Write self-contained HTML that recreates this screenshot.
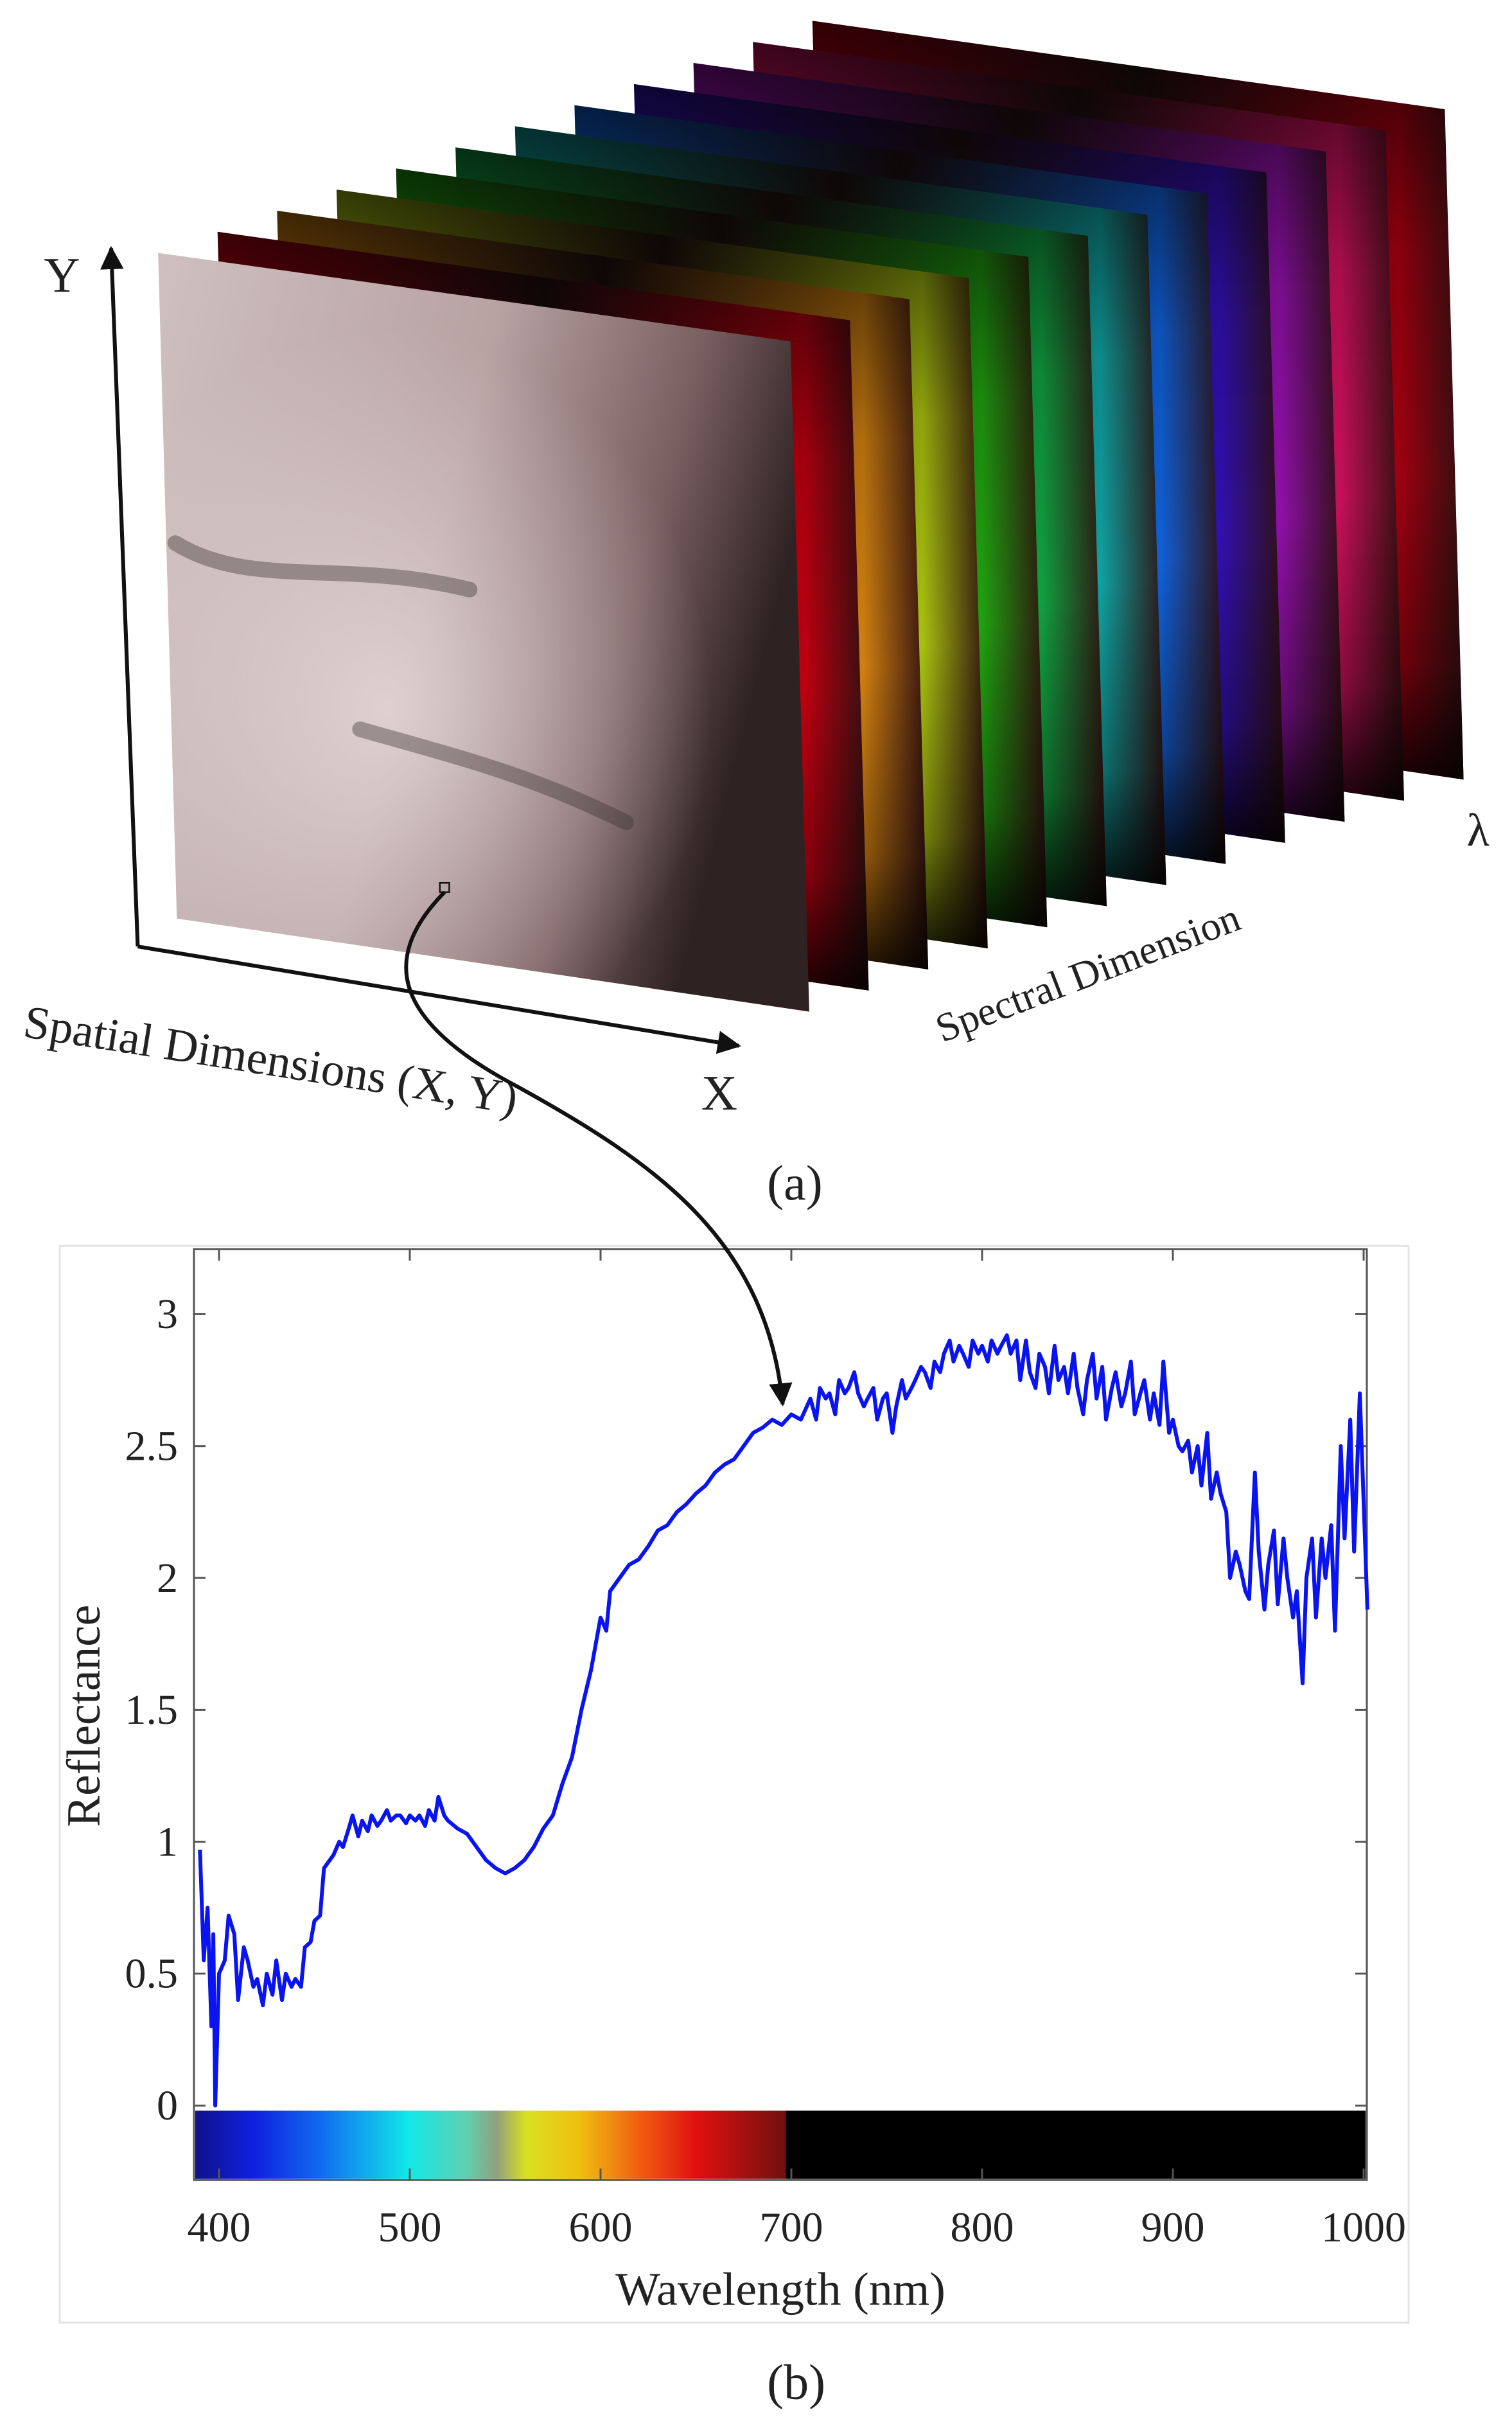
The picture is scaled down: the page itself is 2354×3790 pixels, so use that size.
<!DOCTYPE html>
<html><head><meta charset="utf-8"><style>
html,body{margin:0;padding:0;background:#fff;}
svg{display:block;}
text{font-family:"Liberation Serif",serif;fill:#222;}
</style></head><body>
<svg id="fig" width="2354" height="3790" viewBox="0 0 2354 3790" xmlns="http://www.w3.org/2000/svg">
<defs>
  <linearGradient id="skin" x1="0" y1="0" x2="1" y2="0.3">
    <stop offset="0" stop-color="#cfc0c0"/>
    <stop offset="0.5" stop-color="#b8a2a2"/>
    <stop offset="0.8" stop-color="#7a5f60"/>
    <stop offset="1" stop-color="#2e2223"/>
  </linearGradient>
  <radialGradient id="glow" cx="0.35" cy="0.6" r="0.5">
    <stop offset="0" stop-color="#e8dcdc" stop-opacity="0.8"/>
    <stop offset="1" stop-color="#e8dcdc" stop-opacity="0"/>
  </radialGradient>
  <linearGradient id="shade" x1="0" y1="0" x2="0" y2="1">
    <stop offset="0" stop-color="#000" stop-opacity="0.7"/>
    <stop offset="0.3" stop-color="#000" stop-opacity="0.15"/>
    <stop offset="0.6" stop-color="#000" stop-opacity="0"/>
    <stop offset="0.85" stop-color="#000" stop-opacity="0.3"/>
    <stop offset="1" stop-color="#000" stop-opacity="0.85"/>
  </linearGradient>
  <linearGradient id="cbar" x1="0" y1="0" x2="1" y2="0">
    <stop offset="0" stop-color="#10108a"/>
    <stop offset="0.1" stop-color="#1020e0"/>
    <stop offset="0.22" stop-color="#1070f0"/>
    <stop offset="0.36" stop-color="#10e8e8"/>
    <stop offset="0.46" stop-color="#60d0b0"/>
    <stop offset="0.51" stop-color="#90a080"/>
    <stop offset="0.56" stop-color="#d8e020"/>
    <stop offset="0.65" stop-color="#f0c010"/>
    <stop offset="0.75" stop-color="#f06010"/>
    <stop offset="0.85" stop-color="#e01010"/>
    <stop offset="1" stop-color="#701010"/>
  </linearGradient>
  <marker id="arr" viewBox="0 0 10 10" refX="9" refY="5" markerWidth="6" markerHeight="6" orient="auto">
    <path d="M0,0 L10,5 L0,10 z" fill="#111"/>
  </marker>
</defs>
<g transform="scale(1,0.991)">
<g id="cube" transform="scale(2.437)"></g>

<g transform="scale(2.437)">
  <line x1="88" y1="610" x2="71" y2="160" stroke="#111" stroke-width="2.5" marker-end="url(#arr)"/>
  <line x1="88" y1="610" x2="472" y2="674" stroke="#111" stroke-width="2.5" marker-end="url(#arr)"/>
  <text x="28" y="188" font-size="32">Y</text>
  <text x="448" y="715" font-size="32">X</text>
  <text x="14" y="668" font-size="30" transform="rotate(9 14 668)">Spatial Dimensions (X, Y)</text>
  <text x="602" y="672" font-size="26" transform="rotate(-21 602 672)">Spectral Dimension</text>
  <text x="937" y="545" font-size="30">λ</text>
  <text x="490" y="773" font-size="32">(a)</text>
  <text x="490" y="1546" font-size="32">(b)</text>
  <rect x="281" y="569" width="6" height="6" fill="none" stroke="#111" stroke-width="1"/>
</g>

<g id="chart">
  <rect x="93" y="1957" width="2100" height="1691" fill="none" stroke="#e4e4e4" stroke-width="3"/>
</g>

<g transform="scale(2.437)">
  <path d="M284,575 C240,620 255,660 330,700 C420,750 490,800 500,905" fill="none" stroke="#111" stroke-width="2.5" marker-end="url(#arr)"/>
</g>
</g>
</svg>
<script>
const wavelengths=[390,392,394,396,397,398,400,403,405,408,410,413,415,418,420,423,425,428,430,433,435,438,440,443,445,448,450,453,455,458,460,463,465,468,470,473,475,478,480,483,485,488,490,493,495,498,500,503,505,508,510,513,515,518,520,525,530,535,540,545,550,555,560,565,570,575,580,585,590,595,600,603,605,610,615,620,625,630,635,640,645,650,655,660,665,670,675,680,685,690,695,700,705,710,713,715,718,720,723,725,728,730,733,735,738,740,743,745,748,750,753,755,758,760,763,765,768,770,773,775,778,780,783,785,788,790,793,795,798,800,803,805,808,810,813,815,818,820,823,825,828,830,833,835,838,840,843,845,848,850,853,855,858,860,863,865,868,870,873,875,878,880,883,885,888,890,893,895,898,900,903,905,908,910,913,915,918,920,923,925,928,930,933,935,938,940,943,945,948,950,953,955,958,960,963,965,968,970,973,975,978,980,983,985,988,990,993,995,998,1002];
const reflectance=[0.97,0.55,0.75,0.3,0.65,0.0,0.5,0.55,0.72,0.65,0.4,0.6,0.55,0.45,0.48,0.38,0.5,0.42,0.55,0.4,0.5,0.45,0.48,0.45,0.6,0.62,0.7,0.72,0.9,0.93,0.95,1.0,0.98,1.05,1.1,1.02,1.08,1.04,1.1,1.06,1.08,1.12,1.08,1.1,1.1,1.07,1.1,1.08,1.1,1.06,1.12,1.08,1.17,1.1,1.08,1.05,1.03,0.98,0.93,0.9,0.88,0.9,0.93,0.98,1.05,1.1,1.22,1.32,1.5,1.65,1.85,1.8,1.95,2.0,2.05,2.07,2.12,2.18,2.2,2.25,2.28,2.32,2.35,2.4,2.43,2.45,2.5,2.55,2.57,2.6,2.58,2.62,2.6,2.68,2.6,2.72,2.68,2.7,2.62,2.75,2.7,2.72,2.78,2.7,2.65,2.68,2.72,2.6,2.68,2.7,2.55,2.65,2.75,2.68,2.72,2.75,2.8,2.78,2.72,2.82,2.78,2.85,2.9,2.82,2.88,2.85,2.8,2.9,2.85,2.88,2.82,2.9,2.85,2.88,2.92,2.85,2.9,2.75,2.9,2.78,2.72,2.85,2.8,2.7,2.88,2.75,2.8,2.7,2.85,2.72,2.62,2.75,2.85,2.68,2.8,2.6,2.72,2.78,2.65,2.7,2.82,2.62,2.7,2.75,2.6,2.7,2.58,2.82,2.55,2.6,2.5,2.48,2.52,2.4,2.5,2.35,2.55,2.3,2.4,2.32,2.25,2.0,2.1,2.05,1.95,1.92,2.4,2.1,1.88,2.05,2.18,1.9,2.15,2.0,1.85,1.95,1.6,2.0,2.15,1.85,2.15,2.0,2.2,1.8,2.5,2.15,2.6,2.1,2.7,1.88];
const yTicks=[0,0.5,1,1.5,2,2.5,3];
const yTickLabels=["0","0.5","1","1.5","2","2.5","3"];
const xTicks=[400,500,600,700,800,900,1000];
const xTickLabels=["400","500","600","700","800","900","1000"];
const sliceColors=["#c00010","#d08010","#a8c010","#20a010","#10a040","#10a0a0","#1060d8","#3010b0","#9010a8","#c8105a","#a00010"];

const NS="http://www.w3.org/2000/svg";
function mk(tag,attrs,parent){const e=document.createElementNS(NS,tag);for(const k in attrs)e.setAttribute(k,attrs[k]);parent.appendChild(e);return e;}

const cube=document.getElementById('cube');
const defs=document.querySelector('defs');
const F=[[101,163],[505,220],[517,652],[113,592]];
for(let i=sliceColors.length-1;i>=0;i--){
  const dx=38*(i+1),dy=-13.6*(i+1);
  const g=mk('linearGradient',{id:'sg'+i,x1:'0',y1:'0',x2:'1',y2:'0'},defs);
  mk('stop',{offset:'0',"stop-color":sliceColors[i]},g);
  mk('stop',{offset:'0.5',"stop-color":"#201010"},g);
  mk('stop',{offset:'0.9',"stop-color":sliceColors[i]},g);
  mk('stop',{offset:'1',"stop-color":"#301010"},g);
  const pts=F.map(p=>(p[0]+dx)+','+(p[1]+dy)).join(' ');
  const s=mk('polygon',{points:pts,fill:'url(#sg'+i+')'},cube);
  
  
  const sh=mk('polygon',{points:pts,fill:'url(#shade)'},cube);
  
  
}
const fpts=F.map(p=>p.join(',')).join(' ');
const front=mk('polygon',{points:fpts,fill:'url(#skin)'},cube);


const gl=mk('polygon',{points:fpts,fill:'url(#glow)'},cube);


const streak=mk('path',{d:'M112,350 C160,380 220,360 300,380 M230,470 C300,490 340,500 400,530',stroke:'#3a3232','stroke-width':'10','stroke-opacity':'0.4',fill:'none','stroke-linecap':'round'},cube);



const chart=document.getElementById('chart');
const L=302,R=2128,T=1962,B=3424;
const xs=v=>341+(v-400)*(2123-341)/600;
const ys=v=>3307-v*(3307-2064)/3;
const plot=mk('rect',{x:L,y:T,width:R-L,height:B-T,fill:'#fff',stroke:'#555','stroke-width':3},chart);


const cb=mk('rect',{x:L+2,y:3315,width:xs(697)-L-2,height:B-3315-2,fill:'url(#cbar)'},chart);


const nir=mk('rect',{x:xs(697),y:3315,width:R-xs(697)-2,height:B-3315-2,fill:'#000'},chart);


yTicks.forEach((v,i)=>{
  const y=ys(v);
  const t1=mk('line',{x1:L,y1:y,x2:L+18,y2:y,stroke:'#555','stroke-width':3},chart);
  
  
  const t2=mk('line',{x1:R-18,y1:y,x2:R,y2:y,stroke:'#555','stroke-width':3},chart);
  
  
  const tx=mk('text',{x:277,y:y+22,'font-size':66,'text-anchor':'end'},chart);
  tx.textContent=yTickLabels[i];
  
  
});
xTicks.forEach((v,i)=>{
  const x=xs(v);
  const t1=mk('line',{x1:x,y1:T,x2:x,y2:T+18,stroke:'#555','stroke-width':3},chart);
  
  
  const t2=mk('line',{x1:x,y1:B-18,x2:x,y2:B,stroke:'#555','stroke-width':3},chart);
  
  
  const tx=mk('text',{x:x,y:3520,'font-size':66,'text-anchor':'middle'},chart);
  tx.textContent=xTickLabels[i];
  
  
});
const xt=mk('text',{x:1215,y:3620,'font-size':74,'text-anchor':'middle'},chart);
xt.textContent='Wavelength (nm)';


const yt=mk('text',{x:155,y:2695,'font-size':74,'text-anchor':'middle',transform:'rotate(-90 155 2695)'},chart);
yt.textContent='Reflectance';


const d=wavelengths.map((w,i)=>(i?'L':'M')+xs(w).toFixed(1)+','+ys(reflectance[i]).toFixed(1)).join(' ');
const line=mk('path',{d:d,fill:'none',stroke:'#0a14f0','stroke-width':6,'stroke-linejoin':'round'},chart);


</script>
</body></html>
